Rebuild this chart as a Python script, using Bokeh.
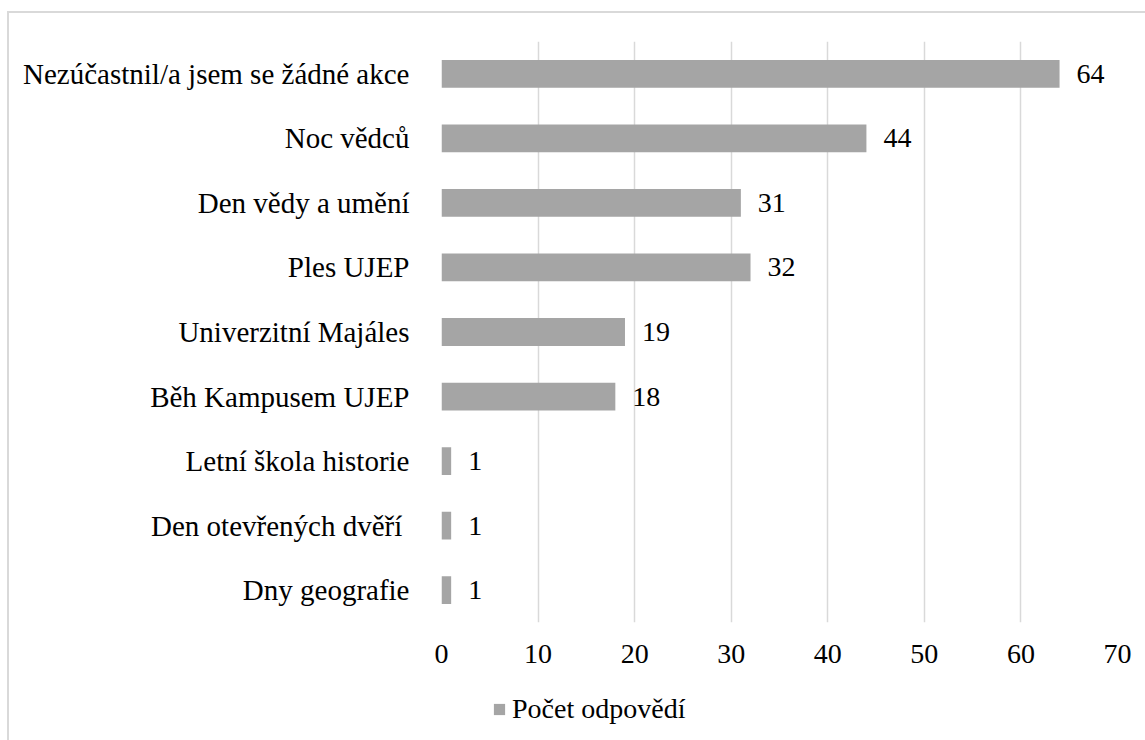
from bokeh.plotting import figure
from bokeh.layouts import column
from bokeh.models import ColumnDataSource, Legend, LegendItem, FixedTicker, InlineStyleSheet, Range1d, FactorRange
from bokeh.core.properties import value
from bokeh.embed import file_html
from bokeh.resources import INLINE

categories = [
    "Nezúčastnil/a jsem se žádné akce",
    "Noc vědců",
    "Den vědy a umění",
    "Ples UJEP",
    "Univerzitní Majáles",
    "Běh Kampusem UJEP",
    "Letní škola historie",
    "Den otevřených dvěří ",
    "Dny geografie",
]
counts = [64, 44, 31, 32, 19, 18, 1, 1, 1]
x_ticks = [0, 10, 20, 30, 40, 50, 60, 70]
series_name = "Počet odpovědí"

FONT = "Liberation Serif"
BAR = "#a5a5a5"
GRID = "#d9d9d9"

src = ColumnDataSource(dict(cat=categories, val=counts, lbl=[str(v) for v in counts]))

p = figure(
    y_range=list(reversed(categories)),
    x_range=(0, 70),
    width=1145, height=672,
    output_backend="svg", toolbar_location=None,
    min_border_left=441, min_border_right=28,
    min_border_top=41, min_border_bottom=50,
)
p.border_fill_color = None
p.outline_line_color = None
p.background_fill_color = None

bars = p.hbar(y="cat", right="val", left=0, height=0.43, source=src,
              fill_color=BAR, line_color=None)

p.text(x="val", y="cat", text="lbl", source=src, x_offset=17,
       text_baseline="middle", text_align="left",
       text_font=value(FONT), text_font_size="28px", text_color="#000000")

p.xaxis.ticker = FixedTicker(ticks=x_ticks)
p.xaxis.axis_line_color = None
p.xaxis.major_tick_line_color = None
p.xaxis.minor_tick_line_color = None
p.xaxis.major_label_text_font = FONT
p.xaxis.major_label_text_font_size = "28px"
p.xaxis.major_label_text_color = "#000000"
p.xaxis.major_label_standoff = 16

p.yaxis.axis_line_color = None
p.yaxis.major_tick_line_color = None
p.yaxis.minor_tick_line_color = None
p.yaxis.major_label_text_font = FONT
p.yaxis.major_label_text_font_size = "29px"
p.yaxis.major_label_text_color = "#000000"
p.yaxis.major_label_standoff = 26

p.xgrid.grid_line_color = GRID
p.xgrid.grid_line_width = 1.5
p.ygrid.grid_line_color = None

# legend strip below the chart (its bar renderer only supplies the swatch;
# its y range holds no category, so no bar is drawn there)
p2 = figure(
    y_range=FactorRange(factors=[series_name]),
    x_range=Range1d(0, 70),
    width=1145, height=68,
    output_backend="svg", toolbar_location=None,
    x_axis_type=None, y_axis_type=None,
    min_border_left=0, min_border_right=0, min_border_top=0, min_border_bottom=0,
)
p2.border_fill_color = None
p2.background_fill_color = None
p2.outline_line_color = None
p2.grid.grid_line_color = None
swatch = p2.hbar(y="cat", right="val", left=0, height=0.43, source=src,
                 fill_color=BAR, line_color=None)

legend = Legend(
    items=[LegendItem(label=series_name, renderers=[swatch])],
    location=(51, 15),
    orientation="horizontal",
    glyph_width=14, glyph_height=14,
    label_text_font=FONT, label_text_font_size="28px", label_text_color="#000000",
    label_standoff=6, padding=0, margin=0, spacing=0,
    border_line_color=None, background_fill_alpha=0,
)
p2.add_layout(legend, "center")

layout = column(p, p2, spacing=0)
layout.stylesheets = [InlineStyleSheet(css=":host { background: "
    "linear-gradient(#d9d9d9,#d9d9d9) 7px 11px / 100% 2px no-repeat, "
    "linear-gradient(#d9d9d9,#d9d9d9) 7px 11px / 2px 100% no-repeat; }")]

open("out.html", "w").write(file_html(layout, INLINE))
